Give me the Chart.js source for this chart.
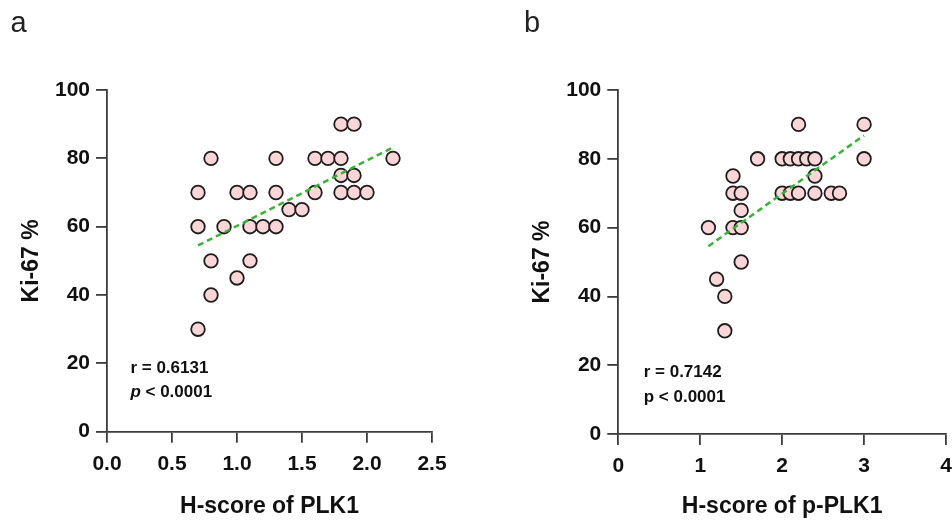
<!DOCTYPE html>
<html><head><meta charset="utf-8">
<script src="https://cdn.jsdelivr.net/npm/chart.js@4.4.0/dist/chart.umd.min.js"></script>
<style>
html,body{margin:0;padding:0;background:#fff;}
body{width:952px;height:522px;position:relative;overflow:hidden;font-family:"Liberation Sans",Arial,sans-serif;}
.wrap{position:absolute;top:0;height:522px;}
.lab{position:absolute;font-size:29px;line-height:1;color:#222;z-index:2;}
</style></head><body>
<div class="lab" style="left:10.5px;top:7.5px">a</div>
<div class="lab" style="left:524px;top:7.5px">b</div>
<div class="wrap" style="left:0;width:476px"><canvas id="cA"></canvas></div>
<div class="wrap" style="left:476px;width:500px"><canvas id="cB"></canvas></div>
<script>
// ---- Data: panel a (PLK1) ----
const hScorePLK1 = [0.7,0.7,0.7,0.8,0.8,0.8,0.9,1.0,1.0,1.1,1.1,1.1,1.2,1.3,1.3,1.3,1.4,1.5,1.6,1.6,1.7,1.8,1.8,1.8,1.8,1.9,1.9,1.9,2.0,2.2];
const ki67A      = [70, 60, 30, 80, 50, 40, 60, 70, 45, 70, 60, 50, 60, 80, 70, 60, 65, 65, 80, 70, 80, 90, 80, 75, 70, 90, 75, 70, 70, 80];
const trendXA = [0.7, 2.2];
const trendYA = [54.5, 83.2];
const xTickLabelsA = ['0.0','0.5','1.0','1.5','2.0','2.5'];
const statsA = ['r = 0.6131', '< 0.0001'];

// ---- Data: panel b (p-PLK1) ----
const hScorePPLK1 = [1.1,1.2,1.3,1.3,1.4,1.4,1.4,1.5,1.5,1.5,1.5,1.7,2.0,2.0,2.1,2.1,2.2,2.2,2.2,2.3,2.4,2.4,2.4,2.6,2.7,3.0,3.0];
const ki67B       = [60, 45, 40, 30, 75, 70, 60, 70, 65, 60, 50, 80, 80, 70, 80, 70, 90, 80, 70, 80, 80, 75, 70, 70, 70, 90, 80];
const trendXB = [1.1, 3.0];
const trendYB = [54.6, 86.8];
const xTickLabelsB = ['0','1','2','3','4'];
const statsB = ['r = 0.7142', 'p < 0.0001'];

const yTickLabels = ['0','20','40','60','80','100'];

const FONT = '"Liberation Sans", Arial, sans-serif';
const AXIS = '#3c3c3c';

function statPlugin(lines, italicP, pos) {
  return {
    id: 'stat',
    afterDatasetsDraw(chart) {
      const ctx = chart.ctx;
      const xs = chart.scales.x, ys = chart.scales.y;
      const x = xs.getPixelForValue(pos.x);
      ctx.save();
      ctx.fillStyle = '#111';
      ctx.textBaseline = 'middle';
      ctx.textAlign = 'left';
      ctx.font = 'bold 17px ' + FONT;
      ctx.fillText(lines[0], x, ys.getPixelForValue(pos.y1));
      const y2 = ys.getPixelForValue(pos.y2);
      if (italicP) {
        ctx.font = 'italic bold 17px ' + FONT;
        ctx.fillText('p', x, y2);
        const w = ctx.measureText('p ').width;
        ctx.font = 'bold 17px ' + FONT;
        ctx.fillText(lines[1], x + w, y2);
      } else {
        ctx.fillText(lines[1], x, y2);
      }
      ctx.restore();
    }
  };
}

function makeChart(id, xs, ys, tx, ty, cfg) {
  const pts = xs.map((v, i) => ({x: v, y: ys[i]}));
  const tpts = tx.map((v, i) => ({x: v, y: ty[i]}));
  return new Chart(document.getElementById(id), {
    data: {
      datasets: [
        {type: 'line', data: tpts, borderColor: '#35b535', borderWidth: 2.5, borderDash: [6, 4],
         pointRadius: 0, fill: false, order: 0, tension: 0},
        {type: 'scatter', data: pts, backgroundColor: '#fbd5d7', borderColor: '#1e1e1e',
         borderWidth: 1.8, pointRadius: 6.8, pointHoverRadius: 6.8, order: 1}
      ]
    },
    options: {
      responsive: true, maintainAspectRatio: false, animation: false,
      layout: {padding: cfg.padding},
      plugins: {legend: {display: false}, tooltip: {enabled: false}},
      scales: {
        x: {
          type: 'linear', min: cfg.xmin, max: cfg.xmax,
          ticks: {stepSize: cfg.xstep, color: '#111', padding: 8.5,
                  font: {family: FONT, size: 21, weight: 'bold'},
                  callback: (v, i) => cfg.xlabels[i]},
          grid: {display: true, drawOnChartArea: false, drawTicks: true, tickLength: 11, color: AXIS, lineWidth: 1.8},
          border: {display: true, color: AXIS, width: 1.8},
          title: {display: true, text: cfg.xtitle, color: '#111',
                  font: {family: FONT, size: 23, weight: 'bold'}, padding: {top: 0, bottom: 1.2}},
          afterFit: s => { s.height = cfg.xh; }
        },
        y: {
          type: 'linear', min: 0, max: 100,
          ticks: {stepSize: 20, color: '#111', padding: 6,
                  font: {family: FONT, size: 21, weight: 'bold'},
                  callback: (v, i) => yTickLabels[i]},
          grid: {display: true, drawOnChartArea: false, drawTicks: true, tickLength: 11, color: AXIS, lineWidth: 1.8},
          border: {display: true, color: AXIS, width: 1.8},
          title: {display: true, text: 'Ki-67 %', color: '#111',
                  font: {family: FONT, size: 23, weight: 'bold'}, padding: {top: cfg.ytp, bottom: 0}},
          afterFit: s => { s.width = cfg.yw; }
        }
      }
    },
    plugins: [statPlugin(cfg.stats, cfg.italicP, cfg.statPos)]
  });
}

makeChart('cA', hScorePLK1, ki67A, trendXA, trendYA, {
  padding: {top: 90, left: 0, right: 44, bottom: 0},
  xmin: 0, xmax: 2.5, xstep: 0.5, xlabels: xTickLabelsA, xtitle: 'H-score of PLK1',
  xh: 90.3, yw: 107, ytp: 17.9, stats: statsA, italicP: true,
  statPos: {x: 0.18, y1: 18.6, y2: 11.6}
});

makeChart('cB', hScorePPLK1, ki67B, trendXB, trendYB, {
  padding: {top: 90, left: 40, right: 30, bottom: 0},
  xmin: 0, xmax: 4, xstep: 1, xlabels: xTickLabelsB, xtitle: 'H-score of p-PLK1',
  xh: 88, yw: 102.3, ytp: 12.5, stats: statsB, italicP: false,
  statPos: {x: 0.31, y1: 17.8, y2: 10.8}
});
</script>
</body></html>
